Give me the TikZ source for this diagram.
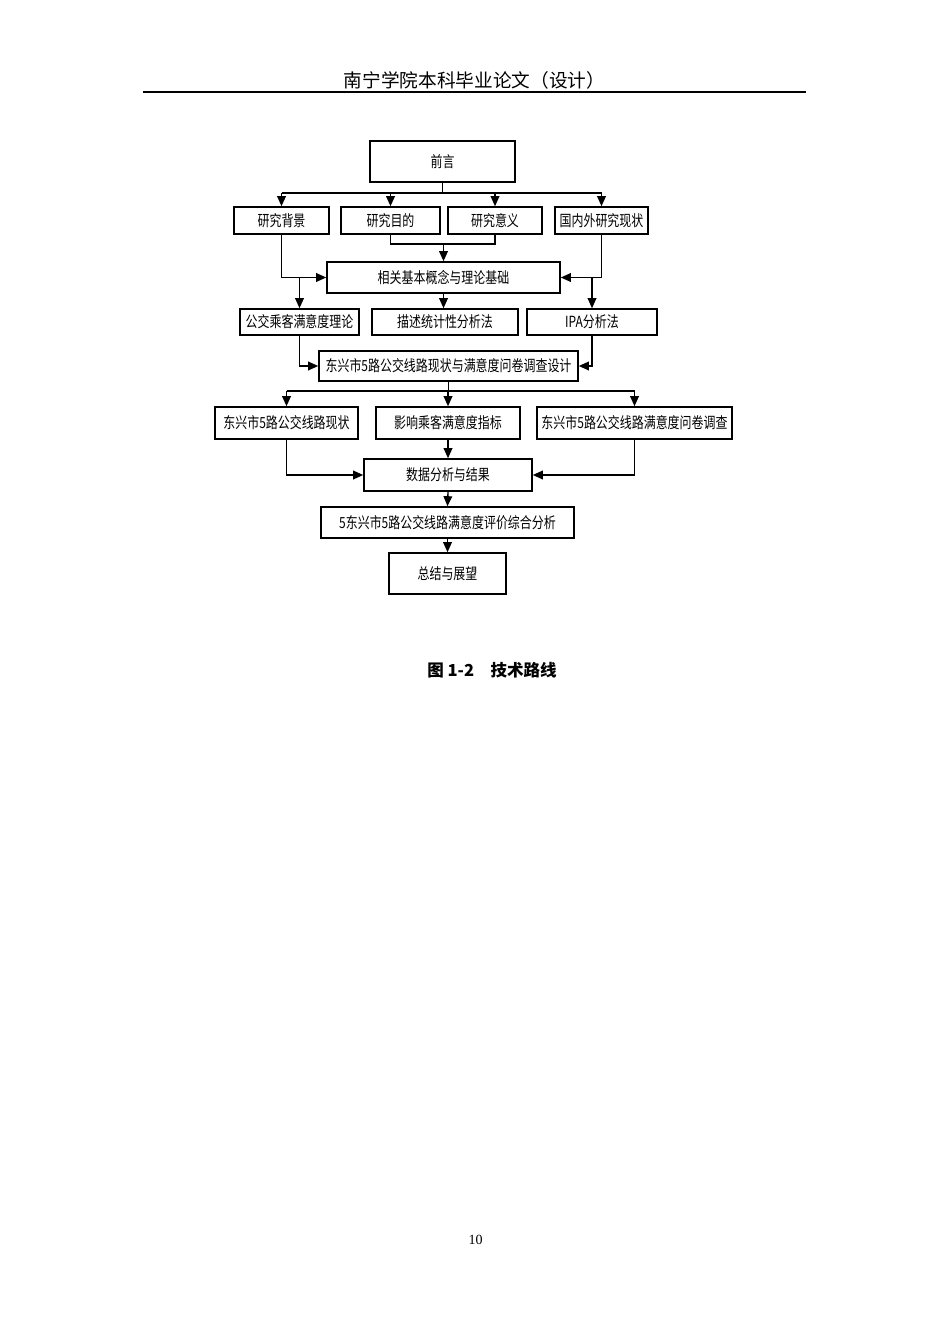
\documentclass[tikz,border=0pt]{standalone}
\usepackage{fontspec}
\setmainfont{Liberation Serif}
\newfontfamily\cjk{Noto Sans CJK SC}
\newfontfamily\cjkn[FakeStretch=0.78]{Noto Sans CJK SC}
\usetikzlibrary{arrows.meta}
\begin{document}
\begin{tikzpicture}[x=0.75pt,y=-0.75pt,
  box/.style 2 args={draw, line width=1.2pt, inner sep=0pt,
    minimum width={#1*0.75pt}, minimum height={#2*0.75pt},
    font=\cjkn\fontsize{11.5}{12}\selectfont},
  conn/.style={line width=1pt},
  arr/.style={line width=1pt, -{Triangle[length=7.5pt,width=6.5pt]}}]
\useasboundingbox (0,0) rectangle (950,1344);
% header
\node[font=\cjk\fontsize{14}{16}\selectfont, inner sep=0pt] (hdr) at (474.5,80) {南宁学院本科毕业论文（设计）};
\coordinate (hl) at (143,92);
\coordinate (hr) at (806,92);
\draw[line width=1.5pt] (hl) -- (hr);
% boxes
\node[box={145}{41}] (qy) at (442.5,161.5) {前言};
\node[box={95}{27}] (bj) at (281.5,220.5) {研究背景};
\node[box={99}{27}] (md) at (390.5,220.5) {研究目的};
\node[box={94}{27}] (yy) at (495,220.5) {研究意义};
\node[box={93}{27}] (gn) at (601.5,220.5) {国内外研究现状};
\node[box={233}{31}] (xg) at (443.5,277.5) {相关基本概念与理论基础};
\node[box={119}{26}] (gj) at (299.5,322) {公交乘客满意度理论};
\node[box={146}{26}] (ms) at (445,322) {描述统计性分析法};
\node[box={130}{26}] (ipa) at (592,322) {IPA分析法};
\node[box={259}{30}] (sj) at (448.5,366) {东兴市5路公交线路现状与满意度问卷调查设计};
\node[box={143}{32}] (xz) at (286.5,423) {东兴市5路公交线路现状};
\node[box={144}{32}] (yx) at (448,423) {影响乘客满意度指标};
\node[box={195}{32}] (wj) at (634.5,423) {东兴市5路公交线路满意度问卷调查};
\node[box={168}{32}] (fx) at (448,475) {数据分析与结果};
\node[box={253}{31}] (zh) at (447.5,522.5) {5东兴市5路公交线路满意度评价综合分析};
\node[box={117}{41}] (zj) at (447.5,573.5) {总结与展望};
% connectors
\coordinate (j1) at (442.5,193);
\draw[conn] (qy.south) -- (j1);
\draw[conn] (bj.north |- j1) -- (gn.north |- j1);
\draw[arr] (bj.north |- j1) -- (bj.north);
\draw[arr] (md.north |- j1) -- (md.north);
\draw[arr] (yy.north |- j1) -- (yy.north);
\draw[arr] (gn.north |- j1) -- (gn.north);
\coordinate (j2) at (443.5,244);
\draw[conn] (md.south) |- (j2) -| (yy.south);
\draw[arr] (j2) -- (xg.north);
\draw[arr] (bj.south) |- (xg.west);
\draw[arr] (gn.south) |- (xg.east);
\draw[arr] (gj.north |- xg.west) -- (gj.north);
\draw[arr] (ipa.north |- xg.east) -- (ipa.north);
\draw[arr] (xg.south) -- (xg.south |- ms.north);
\draw[arr] (gj.south) |- (sj.west);
\draw[arr] (ipa.south) |- (sj.east);
\coordinate (j3) at (448.5,391);
\draw[conn] (sj.south) -- (j3);
\draw[conn] (xz.north |- j3) -- (wj.north |- j3);
\draw[arr] (xz.north |- j3) -- (xz.north);
\draw[arr] (yx.north |- j3) -- (yx.north);
\draw[arr] (wj.north |- j3) -- (wj.north);
\draw[arr] (xz.south) |- (fx.west);
\draw[arr] (wj.south) |- (fx.east);
\draw[arr] (yx.south) -- (fx.north);
\draw[arr] (fx.south) -- (zh.north);
\draw[arr] (zh.south) -- (zj.north);
% caption
\node[font=\cjk\bfseries\fontsize{12.4}{14}\selectfont, inner sep=0pt] (cap) at (492,670) {图 1-2　技术路线};
% page number
\node[font=\fontsize{10.5}{12}\selectfont, inner sep=0pt] (pg) at (475.5,1240) {10};
\end{tikzpicture}
\end{document}
